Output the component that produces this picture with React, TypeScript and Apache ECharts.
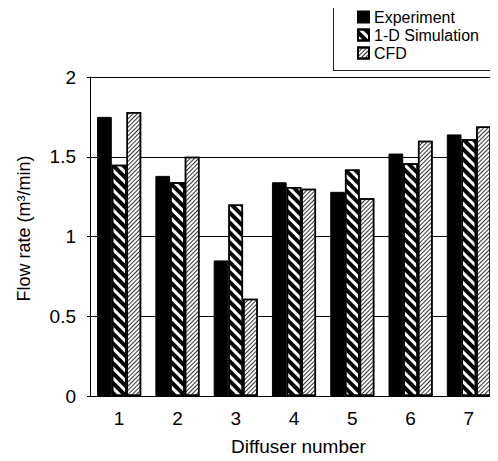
import React, { useEffect, useRef } from "react";
import * as echarts from "echarts";

const categories = ["1", "2", "3", "4", "5", "6", "7"];
const experiment = [1.75, 1.38, 0.85, 1.34, 1.28, 1.52, 1.64];
const simulation1D = [1.45, 1.34, 1.2, 1.31, 1.42, 1.46, 1.61];
const cfd = [1.78, 1.5, 0.61, 1.3, 1.24, 1.6, 1.69];
const yTicks = [0, 0.5, 1, 1.5, 2];

const FONT = "Liberation Sans";

export default function App() {
  const ref = useRef<HTMLDivElement>(null);
  useEffect(() => {
    if (!ref.current) return;
    const chart = echarts.init(ref.current, undefined, { renderer: "svg" });
    const barW = 14.7;
    chart.setOption({
      animation: false,
      backgroundColor: "#fff",
      textStyle: { fontFamily: FONT, color: "#000" },
      graphic: [
        {
          type: "rect",
          silent: true,
          z: 10,
          shape: { x: 333, y: 2, width: 166, height: 1 },
          style: { fill: "#222" },
        },
        {
          type: "rect",
          silent: true,
          z: 10,
          shape: { x: 333, y: 70, width: 166, height: 1 },
          style: { fill: "#222" },
        },
        {
          type: "rect",
          silent: true,
          z: 10,
          shape: { x: 333, y: 2, width: 1, height: 69 },
          style: { fill: "#222" },
        },
      ],
      legend: {
        orient: "vertical",
        left: 357,
        top: 9,
        padding: 0,
        itemWidth: 11,
        itemHeight: 11,
        itemGap: 2,
        icon: "rect",
        textStyle: { fontFamily: FONT, fontSize: 16, color: "#000" },
        data: ["Experiment", "1-D Simulation", "CFD"],
      },
      grid: { left: 90, top: 77, bottom: 64, right: -3, containLabel: false },
      xAxis: {
        type: "category",
        data: categories,
        name: "Diffuser number",
        nameLocation: "middle",
        nameGap: 41,
        nameTextStyle: { fontFamily: FONT, fontSize: 19, color: "#000", padding: [0, 0, 0, 9] },
        axisLine: { lineStyle: { color: "#000", width: 1 } },
        axisTick: { inside: true, length: 4, lineStyle: { color: "#000" } },
        axisLabel: { fontFamily: FONT, fontSize: 19, color: "#000", margin: 13 },
      },
      yAxis: {
        type: "value",
        min: yTicks[0],
        max: yTicks[yTicks.length - 1],
        interval: 0.5,
        name: "Flow rate (m³/min)",
        nameLocation: "middle",
        nameGap: 57,
        nameTextStyle: { fontFamily: FONT, fontSize: 18, color: "#000", padding: [0, 0, 0, 16] },
        axisLine: { show: true, lineStyle: { color: "#000", width: 1 } },
        axisTick: { show: true, length: 3, lineStyle: { color: "#000" } },
        axisLabel: { fontFamily: FONT, fontSize: 19, color: "#000", margin: 14 },
        splitLine: { show: true, lineStyle: { color: "#000", width: 1 } },
      },
      series: [
        {
          name: "Experiment",
          type: "bar",
          data: experiment,
          barWidth: barW,
          barGap: "0%",
          itemStyle: { color: "#000", borderColor: "#000", borderWidth: 1 },
        },
        {
          name: "1-D Simulation",
          type: "bar",
          data: simulation1D,
          barWidth: barW,
          barGap: "0%",
          itemStyle: {
            color: "#fff",
            borderColor: "#000",
            borderWidth: 1.5,
            decal: {
              symbol: "rect",
              symbolSize: 1,
              dashArrayX: [1, 0],
              dashArrayY: [3.2, 2.8],
              rotation: Math.PI / 4,
              color: "#000",
            },
          },
        },
        {
          name: "CFD",
          type: "bar",
          data: cfd,
          barWidth: barW,
          barGap: "0%",
          itemStyle: {
            color: "#fff",
            borderColor: "#000",
            borderWidth: 1.5,
            decal: {
              symbol: "rect",
              symbolSize: 1,
              dashArrayX: [1, 0],
              dashArrayY: [1, 1.2],
              rotation: -Math.PI / 4,
              color: "#333",
            },
          },
        },
      ],
    });
    return () => chart.dispose();
  }, []);
  return <div ref={ref} style={{ width: 498, height: 461, margin: -8 }} />;
}
